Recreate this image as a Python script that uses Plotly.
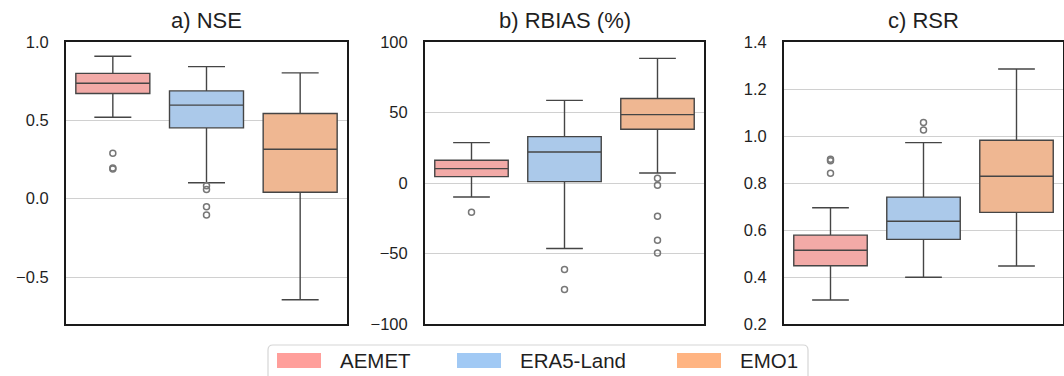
import plotly.graph_objects as go

# ---------------- data ----------------
categories = ["AEMET", "ERA5-Land", "EMO1"]
panel_titles = ["a) NSE", "b) RBIAS (%)", "c) RSR"]

nse_lower = [0.52, 0.102, -0.645]
nse_q1 = [0.671, 0.452, 0.041]
nse_median = [0.737, 0.597, 0.315]
nse_q3 = [0.800, 0.688, 0.544]
nse_upper = [0.909, 0.843, 0.803]
nse_outliers = [[0.29, 0.196, 0.19], [0.083, 0.058, -0.051, -0.104], []]

rbias_lower = [-9.9, -46.5, 7.1]
rbias_q1 = [4.5, 1.0, 38.1]
rbias_median = [10.2, 22.0, 48.5]
rbias_q3 = [16.1, 32.9, 59.9]
rbias_upper = [28.6, 58.6, 88.4]
rbias_outliers = [[-20.8], [-61.4, -75.6], [3.3, -1.6, -23.6, -40.6, -49.6]]

rsr_lower = [0.302, 0.399, 0.447]
rsr_q1 = [0.448, 0.560, 0.675]
rsr_median = [0.514, 0.637, 0.829]
rsr_q3 = [0.578, 0.740, 0.982]
rsr_upper = [0.695, 0.972, 1.285]
rsr_outliers = [[0.901, 0.895, 0.841], [1.057, 1.026], []]

nse_ticks = [-0.5, 0.0, 0.5, 1.0]
nse_ticktext = ["\u22120.5", "0.0", "0.5", "1.0"]
rbias_ticks = [-100, -50, 0, 50, 100]
rbias_ticktext = ["\u2212100", "\u221250", "0", "50", "100"]
rsr_ticks = [0.2, 0.4, 0.6, 0.8, 1.0, 1.2, 1.4]
rsr_ticktext = ["0.2", "0.4", "0.6", "0.8", "1.0", "1.2", "1.4"]

# ---------------- styles ----------------
box_fill = ["#f2aaa7", "#abc9ea", "#efb792"]
legend_colors = ["#ff9f9b", "#a1c9f4", "#ffb482"]
edge_color = "#454545"
FONT = "Liberation Sans, Arial, sans-serif"
W, H = 1064, 376

panels = [
    (nse_lower, nse_q1, nse_median, nse_q3, nse_upper, nse_outliers,
     [-0.8, 1.0], nse_ticks, nse_ticktext),
    (rbias_lower, rbias_q1, rbias_median, rbias_q3, rbias_upper, rbias_outliers,
     [-100, 100], rbias_ticks, rbias_ticktext),
    (rsr_lower, rsr_q1, rsr_median, rsr_q3, rsr_upper, rsr_outliers,
     [0.2, 1.4], rsr_ticks, rsr_ticktext),
]

x_domains = [(66 / W, 347 / W), (425 / W, 704 / W), (784 / W, 1063 / W)]
y_domain = (1 - 324 / H, 1 - 42 / H)

fig = go.Figure()
layout = dict(
    width=W, height=H,
    margin=dict(l=0, r=0, t=0, b=0, autoexpand=False),
    paper_bgcolor="white", plot_bgcolor="white",
    showlegend=False,
    font=dict(family=FONT, color="#1f1f1f"),
)

annotations = []
shapes = []

for p, (lo, q1, med, q3, hi, outs, yr, tv, tt) in enumerate(panels):
    xa = "x" if p == 0 else f"x{p+1}"
    ya = "y" if p == 0 else f"y{p+1}"
    for i, cat in enumerate(categories):
        fig.add_trace(go.Box(
            x=[cat], q1=[q1[i]], median=[med[i]], q3=[q3[i]],
            lowerfence=[lo[i]], upperfence=[hi[i]],
            name=cat, width=0.79, whiskerwidth=0.5,
            fillcolor=box_fill[i],
            line=dict(color=edge_color, width=1.4),
            boxpoints=False, xaxis=xa, yaxis=ya,
        ))
        if outs[i]:
            fig.add_trace(go.Scatter(
                x=[cat] * len(outs[i]), y=outs[i], mode="markers",
                marker=dict(symbol="circle-open", size=6, color="#777777",
                            line=dict(width=1.5)),
                xaxis=xa, yaxis=ya, hoverinfo="y",
            ))
    xkey = "xaxis" if p == 0 else f"xaxis{p+1}"
    ykey = "yaxis" if p == 0 else f"yaxis{p+1}"
    layout[xkey] = dict(
        domain=list(x_domains[p]), anchor=ya,
        type="category", categoryorder="array", categoryarray=categories,
        range=[-0.5, 2.5], showticklabels=False, ticks="",
        showgrid=False, zeroline=False, automargin=False,
        showline=True, mirror=True, linecolor="#1a1a1a", linewidth=2,
    )
    layout[ykey] = dict(
        domain=list(y_domain), anchor=xa, range=yr,
        tickmode="array", tickvals=tv, ticktext=tt,
        tickfont=dict(size=16.5, family=FONT, color="#1f1f1f"),
        ticks="", ticklabelstandoff=12, automargin=False,
        showgrid=True, gridcolor="#d0d0d0", gridwidth=1.3,
        zeroline=False,
        showline=True, mirror=True, linecolor="#1a1a1a", linewidth=2,
    )
    annotations.append(dict(
        text=panel_titles[p], xref="paper", yref="paper",
        x=(x_domains[p][0] + x_domains[p][1]) / 2, y=y_domain[1],
        xanchor="center", yanchor="bottom", yshift=7, showarrow=False,
        font=dict(size=22, family=FONT, color="#1f1f1f"),
    ))

# ---------------- legend (manual, bottom centre) ----------------
def px(x):
    return x / W

def py(y):
    return 1 - y / H

lx0, lx1, ly0, ly1, r = 268, 808, 345, 392, 5
path = (f"M {px(lx0 + r)},{py(ly0)} L {px(lx1 - r)},{py(ly0)} "
        f"Q {px(lx1)},{py(ly0)} {px(lx1)},{py(ly0 + r)} "
        f"L {px(lx1)},{py(ly1)} L {px(lx0)},{py(ly1)} "
        f"L {px(lx0)},{py(ly0 + r)} Q {px(lx0)},{py(ly0)} {px(lx0 + r)},{py(ly0)} Z")
shapes.append(dict(type="path", xref="paper", yref="paper", path=path,
                   line=dict(color="#d6d6d6", width=1.2), fillcolor="white",
                   layer="below"))
patch_x = [277, 457, 677]
for i, cat in enumerate(categories):
    shapes.append(dict(type="rect", xref="paper", yref="paper",
                       x0=px(patch_x[i]), x1=px(patch_x[i] + 44),
                       y0=py(368), y1=py(353),
                       fillcolor=legend_colors[i], line=dict(width=0)))
    annotations.append(dict(
        text=cat, xref="paper", yref="paper",
        x=px(patch_x[i] + 61), y=py(360.5),
        xanchor="left", yanchor="middle", showarrow=False,
        font=dict(size=20.5, family=FONT, color="#1f1f1f"),
    ))

layout["annotations"] = annotations
layout["shapes"] = shapes
fig.update_layout(**layout)
fig.write_html(
    "out.html",
    config={"displayModeBar": False},
    post_script="document.body.style.margin='0';document.body.style.overflow='hidden';",
)
